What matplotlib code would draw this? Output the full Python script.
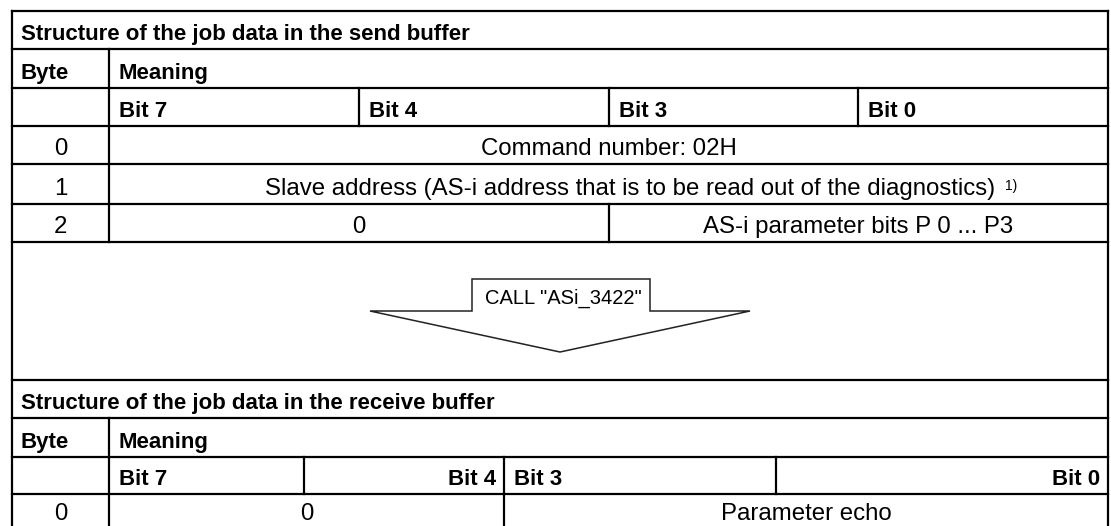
import matplotlib.pyplot as plt
from matplotlib.patches import Polygon

# table texts
send_title = "Structure of the job data in the send buffer"
recv_title = "Structure of the job data in the receive buffer"
head_byte = "Byte"
head_meaning = "Meaning"
send_bits = ["Bit 7", "Bit 4", "Bit 3", "Bit 0"]
recv_bits = ["Bit 7", "Bit 4", "Bit 3", "Bit 0"]
send_bytes = ["0", "1", "2"]
send_cells = [["Command number: 02H"],
              ["Slave address (AS-i address that is to be read out of the diagnostics)"],
              ["0", "AS-i parameter bits P 0 ... P3"]]
footnote = "1)"
recv_bytes = ["0"]
recv_cells = [["0", "Parameter echo"]]
call_label = 'CALL "ASi_3422"'

# layout in pixels
XL, XR, XB = 12, 1108, 109
send_y = [11, 49, 88, 126, 164, 204, 242]
send_div = [359, 609, 858]
recv_y = [380, 418, 457, 494, 534]
recv_div = [304, 504, 776]
row2_div = 609
recv_row_div = 504
LW = 1.6
FS_BOLD = 16
FS = 17.3
FONT = "Liberation Sans"

fig = plt.figure(figsize=(11.11, 5.26), dpi=100)
ax = fig.add_axes([0, 0, 1, 1])
ax.set_xlim(0, 1111)
ax.set_ylim(526, 0)
ax.axis("off")


def hline(y, x0=XL, x1=XR):
    ax.plot([x0, x1], [y, y], color="black", lw=LW, solid_capstyle="projecting")


def vline(x, y0, y1):
    ax.plot([x, x], [y0, y1], color="black", lw=LW, solid_capstyle="projecting")


def txt(x, y, s, ha="left", bold=False, size=None):
    if size is None:
        size = FS_BOLD if bold else FS
    return ax.text(x, y, s, ha=ha, va="baseline", fontsize=size, family=FONT,
                   fontweight="bold" if bold else "normal", color="black")


# outer frame
vline(XL, send_y[0], 526)
vline(XR, send_y[0], 526)

# ---- send buffer
for y in send_y:
    hline(y)
vline(XB, send_y[1], send_y[-1])
for x in send_div:
    vline(x, send_y[2], send_y[3])
vline(row2_div, send_y[5], send_y[6])

txt(XL + 9, send_y[1] - 9, send_title, bold=True)
txt(XL + 9, send_y[2] - 9, head_byte, bold=True)
txt(XB + 10, send_y[2] - 9, head_meaning, bold=True)
bit_x = [XB] + send_div
for x, b in zip(bit_x, send_bits):
    txt(x + 10, send_y[3] - 9, b, bold=True)

for i, (b, cells) in enumerate(zip(send_bytes, send_cells)):
    base = send_y[4 + i] - 9
    txt((XL + XB) / 2, base, b, ha="center")
    if len(cells) == 1:
        xc = (XB + XR) / 2
        if i == 1:
            xc += 22
        t = txt(xc, base, cells[0], ha="center")
        if i == 1:
            ax.annotate(footnote, xy=(1, 1), xycoords=t, xytext=(7, -1),
                        textcoords="offset points", va="top", ha="left",
                        fontsize=10, family=FONT)
    else:
        txt((XB + row2_div) / 2, base, cells[0], ha="center")
        txt((row2_div + XR) / 2, base, cells[1], ha="center")

# ---- call arrow
arrow = [(370, 311), (472, 311), (472, 279), (650, 279), (650, 311),
         (750, 311), (560, 352)]
ax.add_patch(Polygon(arrow, closed=True, fill=False, edgecolor="#222222", lw=1.1))
txt(563, 304, call_label, ha="center", size=14.5)

# ---- receive buffer
for y in recv_y:
    hline(y)
vline(XB, recv_y[1], recv_y[-1])
for x in recv_div:
    vline(x, recv_y[2], recv_y[3])
vline(recv_row_div, recv_y[3], recv_y[4])

txt(XL + 9, recv_y[1] - 9, recv_title, bold=True)
txt(XL + 9, recv_y[2] - 9, head_byte, bold=True)
txt(XB + 10, recv_y[2] - 9, head_meaning, bold=True)
txt(XB + 10, recv_y[3] - 9, recv_bits[0], bold=True)
txt(recv_div[1] - 8, recv_y[3] - 9, recv_bits[1], ha="right", bold=True)
txt(recv_div[1] + 10, recv_y[3] - 9, recv_bits[2], bold=True)
txt(XR - 8, recv_y[3] - 9, recv_bits[3], ha="right", bold=True)

for b, cells in zip(recv_bytes, recv_cells):
    base = recv_y[4] - 14
    txt((XL + XB) / 2, base, b, ha="center")
    txt((XB + recv_row_div) / 2, base, cells[0], ha="center")
    txt((recv_row_div + XR) / 2, base, cells[1], ha="center")

fig.savefig("out.png", dpi=100)
